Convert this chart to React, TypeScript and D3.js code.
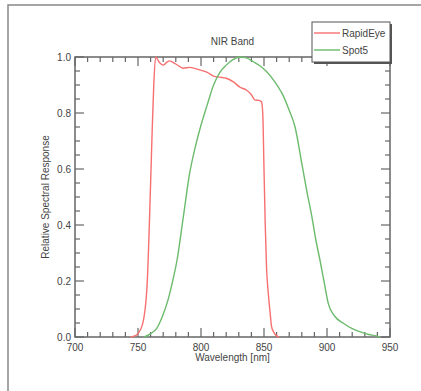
import React, { useEffect, useRef } from "react";
import * as d3 from "d3";

const rapidEyeWl = [744, 748, 753, 757, 759, 761, 762.5, 764, 767, 770, 773, 775, 780, 786, 791, 799, 805, 810, 815, 820, 826, 831, 836, 840, 843, 846, 848, 849, 850, 851, 852, 853.4, 855, 856, 858, 860, 862];
const rapidEyeVal = [0, 0.005, 0.037, 0.168, 0.4, 0.7, 0.9, 1.0, 0.98, 0.971, 0.982, 0.986, 0.975, 0.96, 0.963, 0.954, 0.945, 0.932, 0.928, 0.924, 0.91, 0.892, 0.882, 0.865, 0.846, 0.845, 0.84, 0.8, 0.6, 0.4, 0.25, 0.156, 0.08, 0.037, 0.015, 0.004, 0];
const spotWl = [755, 760, 765, 769, 773, 777, 781, 786, 791, 795, 799, 805, 810, 815, 820, 825, 831, 836, 841.5, 847, 852, 858, 865, 870, 874.6, 880, 884, 888, 891, 894.4, 898, 901, 906, 913, 920, 926, 933, 939, 942];
const spotVal = [0, 0.012, 0.032, 0.07, 0.12, 0.19, 0.275, 0.43, 0.585, 0.67, 0.74, 0.83, 0.9, 0.945, 0.971, 0.99, 1.0, 0.997, 0.983, 0.968, 0.948, 0.915, 0.864, 0.81, 0.751, 0.62, 0.52, 0.43, 0.35, 0.275, 0.19, 0.12, 0.075, 0.049, 0.03, 0.019, 0.009, 0.004, 0];
const xTicks = [700, 750, 800, 850, 900, 950];
const yTicks = [0, 0.2, 0.4, 0.6, 0.8, 1.0];
const seriesNames = ["RapidEye", "Spot5"];
const seriesColors = ["#f77070", "#6cbb6c"];

export default function App() {
  const ref = useRef<SVGSVGElement>(null);

  useEffect(() => {
    const svg = d3.select(ref.current);
    svg.selectAll("*").remove();
    const left = 75, right = 390, top = 57, bottom = 337;
    const x = d3.scaleLinear().domain([700, 950]).range([left, right]);
    const y = d3.scaleLinear().domain([0, 1]).range([bottom, top]);
    const axisColor = "#666";
    const font = "Liberation Sans, Arial, sans-serif";

    // outer frame
    svg.append("path").attr("d", "M8,421 L8,5 L421,5").attr("fill", "none").attr("stroke", "#888").attr("stroke-width", 1.5);

    const g = svg.append("g");
    // minor + major ticks on all four sides
    const xMinor = d3.range(710, 950, 10).filter((v) => v % 50 !== 0);
    const yMinor = d3.range(0.05, 1, 0.05).filter((v) => Math.abs(v * 5 - Math.round(v * 5)) > 1e-6);
    const tickLines: [number, number, number, number][] = [];
    xMinor.forEach((v) => {
      tickLines.push([x(v), bottom, x(v), bottom - 5]);
      tickLines.push([x(v), top, x(v), top + 5]);
    });
    xTicks.forEach((v) => {
      tickLines.push([x(v), bottom, x(v), bottom - 9]);
      tickLines.push([x(v), top, x(v), top + 9]);
    });
    yMinor.forEach((v) => {
      tickLines.push([left, y(v), left + 5, y(v)]);
      tickLines.push([right, y(v), right - 5, y(v)]);
    });
    yTicks.forEach((v) => {
      tickLines.push([left, y(v), left + 9, y(v)]);
      tickLines.push([right, y(v), right - 9, y(v)]);
    });
    g.selectAll("line.t").data(tickLines).enter().append("line")
      .attr("x1", (d) => d[0]).attr("y1", (d) => d[1]).attr("x2", (d) => d[2]).attr("y2", (d) => d[3])
      .attr("stroke", axisColor).attr("stroke-width", 1.2);

    g.append("rect").attr("x", left).attr("y", top).attr("width", right - left).attr("height", bottom - top)
      .attr("fill", "none").attr("stroke", axisColor).attr("stroke-width", 1.5);

    g.selectAll("text.xt").data(xTicks).enter().append("text")
      .attr("x", (d) => x(d)).attr("y", bottom + 14).attr("text-anchor", "middle")
      .attr("font-family", font).attr("font-size", 10).attr("fill", "#444").text((d) => String(d));
    g.selectAll("text.yt").data(yTicks).enter().append("text")
      .attr("x", left - 4).attr("y", (d) => y(d) + 3.5).attr("text-anchor", "end")
      .attr("font-family", font).attr("font-size", 10).attr("fill", "#444").text((d) => d.toFixed(1));

    g.append("text").attr("x", (left + right) / 2).attr("y", 361).attr("text-anchor", "middle")
      .attr("font-family", font).attr("font-size", 10).attr("fill", "#444").text("Wavelength [nm]");
    g.append("text").attr("transform", `translate(49,${(top + bottom) / 2}) rotate(-90)`).attr("text-anchor", "middle")
      .attr("font-family", font).attr("font-size", 10).attr("fill", "#444").text("Relative Spectral Response");
    g.append("text").attr("x", (left + right) / 2).attr("y", 45).attr("text-anchor", "middle")
      .attr("font-family", font).attr("font-size", 10).attr("fill", "#444").text("NIR Band");

    const line = d3.line<[number, number]>().x((d) => x(d[0])).y((d) => y(d[1])).curve(d3.curveMonotoneX);
    const series = [
      d3.zip(rapidEyeWl, rapidEyeVal) as [number, number][],
      d3.zip(spotWl, spotVal) as [number, number][],
    ];
    series.forEach((s, i) => {
      g.append("path").attr("d", line(s)).attr("fill", "none").attr("stroke", seriesColors[i]).attr("stroke-width", 1.4);
    });

    // legend
    const lg = svg.append("g");
    lg.append("rect").attr("x", 314).attr("y", 24).attr("width", 78).attr("height", 40).attr("fill", "#555");
    lg.append("rect").attr("x", 312).attr("y", 22).attr("width", 78).attr("height", 40).attr("fill", "#fff").attr("stroke", "#555").attr("stroke-width", 1);
    seriesNames.forEach((n, i) => {
      const ly = 33 + i * 17;
      lg.append("line").attr("x1", 314).attr("x2", 340).attr("y1", ly).attr("y2", ly).attr("stroke", seriesColors[i]).attr("stroke-width", 1.4);
      lg.append("text").attr("x", 342).attr("y", ly + 3.5).attr("font-family", font).attr("font-size", 10).attr("fill", "#444").text(n);
    });
  }, []);

  return <svg ref={ref} width={421} height={391} style={{ position: "absolute", left: 0, top: 0 }} />;
}
